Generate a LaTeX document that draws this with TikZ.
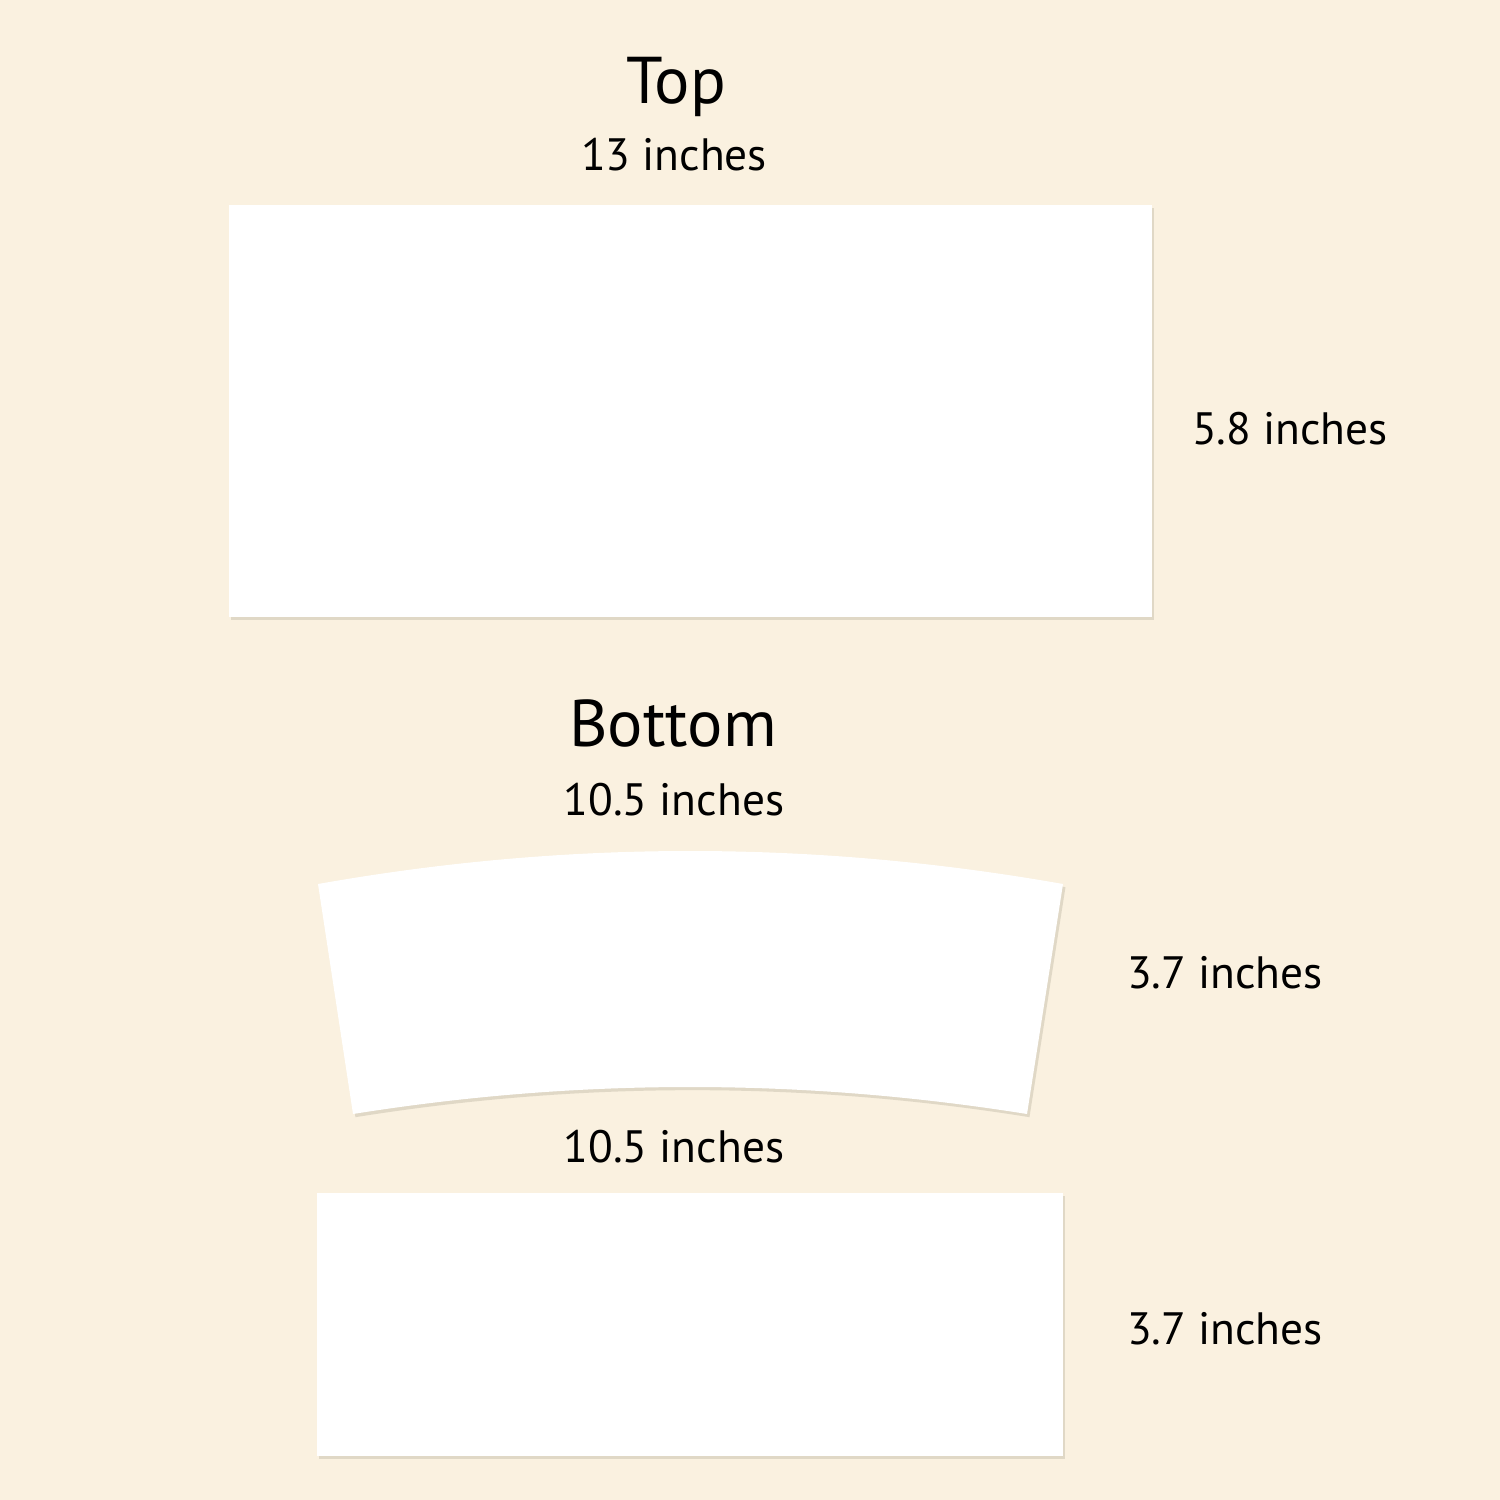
\documentclass[tikz,border=0pt]{standalone}
\usepackage{fontspec}
\setmainfont{PT Sans}
\definecolor{paper}{RGB}{250,241,224}
\definecolor{shade}{RGB}{224,216,198}
\tikzset{
  sheet/.style={fill=white, draw=none},
  sheetshadow/.style={fill=shade, draw=none, xshift=0.7pt, yshift=-0.9pt},
  heading/.style={anchor=base, inner sep=0pt, font=\fontsize{18.8}{20}\selectfont},
  measure/.style={anchor=base, inner sep=0pt, font=\fontsize{12.9}{15}\selectfont}
}
\begin{document}
\begin{tikzpicture}[x=0.01cm, y=-0.01cm]

	\fill[paper] (0,0) rectangle (1500,1500);
	
	% top sheet
	\node[heading] (toptitle) at (676,104) {Top};
	\node[measure] (topwidth) at (674,170) {13 inches};
	\fill[sheetshadow] (229,205) rectangle (1152,617);
	\fill[sheet] (229,205) rectangle (1152,617);
	\node[measure] (topheight) at (1290,444) {5.8 inches};
	
	% bottom, curved sleeve
	\node[heading] (bottomtitle) at (673,746) {Bottom};
	\node[measure] (arcwidth) at (674,815) {10.5 inches};
	\fill[sheetshadow] (318,884) .. controls (566,840) and (814,840) .. (1063,884)
		-- (1027,1114) .. controls (802,1078) and (578,1078) .. (353,1114) -- cycle;
	\fill[sheet] (318,884) .. controls (566,840) and (814,840) .. (1063,884)
		-- (1027,1114) .. controls (802,1078) and (578,1078) .. (353,1114) -- cycle;
	\node[measure] (archeight) at (1225,988) {3.7 inches};
	
	% bottom, flat strip
	\node[measure] (stripwidth) at (674,1162) {10.5 inches};
	\fill[sheetshadow] (317,1193) rectangle (1063,1456);
	\fill[sheet] (317,1193) rectangle (1063,1456);
	\node[measure] (stripheight) at (1225,1344) {3.7 inches};

\end{tikzpicture}
\end{document}
